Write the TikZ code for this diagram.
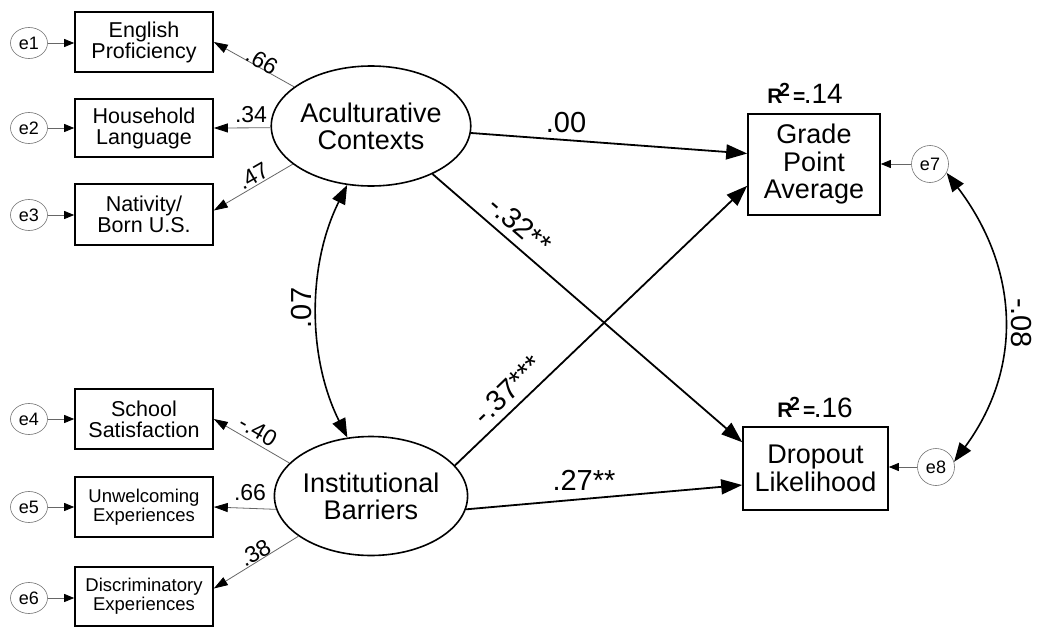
\documentclass[tikz,border=0pt]{standalone}
\usepackage{fontspec}
\setmainfont{Liberation Sans}
\usetikzlibrary{arrows.meta,shapes.geometric}
\tikzset{
  obs/.style={draw, line width=1.6pt, align=center, inner sep=0pt},
  lat/.style={ellipse, draw, line width=1.6pt, align=center, inner sep=0pt,
    minimum width=181pt, minimum height=120pt, font=\fontsize{27}{27}\selectfont},
  err/.style={ellipse, draw=black!55, line width=0.6pt, inner sep=0pt,
    minimum width=37pt, minimum height=31pt, font=\fontsize{18}{18}\selectfont},
  errbig/.style={err, minimum width=37pt, minimum height=37pt},
  reg/.style={line width=1.8pt, -{Triangle[length=21pt,width=15pt]}},
  cov/.style={line width=1.6pt, {Triangle[length=19pt,width=14pt]}-{Triangle[length=19pt,width=14pt]}},
  load/.style={draw=black!60, line width=0.8pt, -{Triangle[length=14pt,width=9pt,color=black]}},
  elink/.style={draw=black!60, line width=0.8pt, -{Triangle[length=10pt,width=8pt,color=black]}},
  lab/.style={inner sep=0pt, font=\fontsize{29}{29}\selectfont},
  llab/.style={inner sep=0pt, font=\fontsize{23}{23}\selectfont},
  small/.style={font=\fontsize{21.5}{21}\selectfont},
  smaller/.style={font=\fontsize{18.5}{19}\selectfont},
  big/.style={font=\fontsize{27}{27.5}\selectfont},
  rsq/.style={anchor=base, inner sep=0pt},
}
\newcommand{\rsqlabel}[1]{{\fontsize{21}{21}\selectfont\bfseries R\kern-3pt\raisebox{7pt}{\fontsize{19}{19}\selectfont 2}\kern3pt=}\kern-1.5pt{\fontsize{28}{28}\selectfont .#1}}
\begin{document}
\begin{tikzpicture}[x=1pt,y=-1pt]
\useasboundingbox (0,0) rectangle (1050,629);

% observed indicators
\node[obs, small, minimum width=138pt, minimum height=60pt] (EP) at (144,42) {English\\Proficiency};
\node[obs, small, minimum width=138pt, minimum height=58pt] (HL) at (144,128) {Household\\Language};
\node[obs, small, minimum width=138pt, minimum height=61pt] (NB) at (144,214.5) {Nativity/\\Born U.S.};
\node[obs, small, minimum width=138pt, minimum height=60pt] (SS) at (144,419) {School\\Satisfaction};
\node[obs, smaller, minimum width=138pt, minimum height=60pt] (UE) at (144,507) {Unwelcoming\\Experiences};
\node[obs, smaller, minimum width=138pt, minimum height=59pt] (DE) at (144,596.5) {Discriminatory\\Experiences};

% outcomes
\node[obs, big, minimum width=132pt, minimum height=101pt] (GPA) at (814,164.5) {Grade\\Point\\Average};
\node[obs, big, minimum width=145pt, minimum height=83pt] (DL) at (815.5,468.5) {Dropout\\Likelihood};

% latent
\node[lat] (AC) at (371,126) {Aculturative\\Contexts};
\node[lat, minimum height=119pt] (IB) at (371,496) {Institutional\\Barriers};

% errors
\node[err] (e1) at (29,43) {e1};
\node[err] (e2) at (29,128) {e2};
\node[err] (e3) at (29,215) {e3};
\node[err] (e4) at (29,419) {e4};
\node[err] (e5) at (29,507) {e5};
\node[err] (e6) at (29,598) {e6};
\node[errbig] (e7) at (930,164) {e7};
\node[errbig] (e8) at (936,467) {e8};

% error arrows
\draw[elink] (e1) -- (EP.west |- e1);
\draw[elink] (e2) -- (HL.west |- e2);
\draw[elink] (e3) -- (NB.west |- e3);
\draw[elink] (e4) -- (SS.west |- e4);
\draw[elink] (e5) -- (UE.west |- e5);
\draw[elink] (e6) -- (DE.west |- e6);
\draw[elink] (e7) -- (GPA.east |- e7);
\draw[elink] (e8) -- (DL.east |- e8);

% loadings
\draw[load] (AC.153) -- (EP.east);
\draw[load] (AC.181) -- (HL.east);
\draw[load] (AC.206) -- ([yshift=4pt]NB.east);
\draw[load] (IB.158) -- (SS.east);
\draw[load] (IB.188) -- (UE.east);
\draw[load] (IB.209) -- ([yshift=8pt]DE.east);

\node[llab, rotate=-30] (l1) at (262,61) {.66};
\node[llab] (l2) at (251,115) {.34};
\node[llab, rotate=30] (l3) at (253,176) {.47};
\node[llab, rotate=-30] (l4) at (258,431) {-.40};
\node[llab] (l5) at (250,493) {.66};
\node[llab, rotate=30] (l6) at (255,553) {.38};

% structural paths
\draw[reg] (AC.-4) -- ([yshift=11pt]GPA.west);
\draw[reg] (AC.-38) -- ([yshift=-16pt]DL.north west);
\draw[reg] (IB.20) -- ([yshift=30pt]GPA.south west);
\draw[reg] (IB.-8) -- ([yshift=-16.5pt]DL.west);

\node[lab] (p1) at (566,123) {.00};
\node[lab, rotate=-41] (p2) at (520,225) {-.32**};
\node[lab, rotate=44] (p3) at (508,390) {-.37***};
\node[lab] (p4) at (584,480) {.27**};

% covariances
\draw[cov] (AC.248) .. controls +(-40,80) and +(-40,-80) .. (IB.112);
\draw[cov] (e7.-28) .. controls +(72,95) and +(70,-95) .. (e8.16);
\node[lab, rotate=90] (c1) at (302,308) {.07};
\node[lab, rotate=-90] (c2) at (1021,323) {-.08};

% R squared
\node[rsq] (r1) at (805,103) {\rsqlabel{14}};
\node[rsq] (r2) at (815,417) {\rsqlabel{16}};
\end{tikzpicture}
\end{document}
